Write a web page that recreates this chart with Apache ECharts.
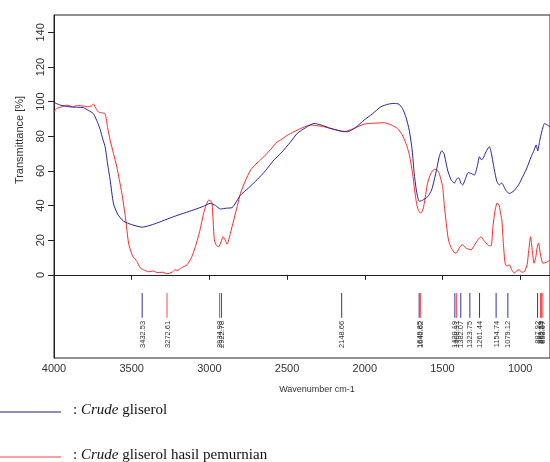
<!DOCTYPE html>
<html>
<head>
<meta charset="utf-8">
<script src="https://cdn.jsdelivr.net/npm/echarts@6/dist/echarts.min.js"></script>
<style>html,body{margin:0;padding:0;background:#fff}#c{width:550px;height:462px}</style>
</head>
<body>
<div id="c"></div>
<script>
// Crude gliserol (blue)
var blueWn = [4000,3960,3900,3811,3780,3746,3720,3703,3685,3671,3655,3639,3617,3590,3553,3500,3432,3350,3230,3101,3040,2994,2960,2929,2890,2854,2800,2750,2692,2640,2585,2542,2477,2434,2380,2327,2280,2219,2150,2112,2060,2005,1950,1897,1850,1811,1780,1757,1735,1714,1695,1682,1670,1660,1649,1630,1596,1570,1553,1535,1521,1505,1490,1467,1445,1424,1410,1400,1392,1382,1370,1350,1335,1316,1295,1275,1262,1250,1240,1220,1198,1185,1166,1150,1134,1120,1113,1090,1069,1040,1010,994,960,929,910,897,887,875,860,843,825,808];
var blueT = [99.5,98,97,96.5,95,93,88,84,78,74,64,55,41,35,31,29,27.5,29.5,33.6,37.5,39.5,41.3,40,38,38.5,38.8,46,50,55,60,66.3,70,76.8,81.7,85,87.4,86.5,84.5,83,82.6,85,89.3,93,97,98.5,99,98.5,96,91,83.6,72,58.6,50,45,42.5,43,45,49,54.8,62,68.2,71.6,70,60.5,55,52.9,55,56,55.7,53,51.9,56,59,58.6,57.6,63,68.2,66.5,67,71,74,70,60.5,54,51.9,53,52.5,48.5,47,48.5,52,54.8,61,68.2,72,75,71.5,77,83,87.4,86.5,85.5];
// Crude gliserol hasil pemurnian (red)
var redWn = [4000,3983,3950,3918,3880,3850,3811,3780,3760,3746,3730,3714,3690,3671,3655,3639,3617,3596,3580,3563,3540,3520,3495,3466,3445,3424,3390,3360,3337,3300,3273,3240,3220,3208,3180,3144,3115,3090,3060,3037,3020,3004,2990,2983,2975,2968,2955,2940,2925,2912,2898,2886,2865,2843,2820,2800,2770,2735,2700,2671,2620,2563,2542,2500,2456,2400,2348,2300,2263,2200,2134,2100,2069,2005,1950,1875,1830,1789,1760,1735,1715,1703,1690,1682,1668,1656,1639,1625,1617,1605,1596,1575,1553,1535,1521,1510,1499,1488,1478,1465,1456,1440,1425,1413,1395,1380,1370,1350,1330,1316,1295,1270,1252,1235,1205,1187,1175,1162,1148,1135,1125,1118,1108,1097,1085,1069,1055,1037,1020,1005,990,972,955,945,933,922,911,900,890,882,870,854,840,822,808];
var redT = [94,96,97,98,97,97.8,97.4,97,97.5,98.6,96,94,93.5,93,85,77.8,70,62.4,55,47,33,18.3,11,7.7,4,2.9,1.8,2.2,1.3,1.5,0.6,1.5,3,2.5,4,5.8,10,16.3,26,35.6,40.5,43.2,42.5,41.3,30,20.2,17,16.3,19,22,20,17.7,24,31.7,40,47,54,60.5,64,66.3,71,76.8,77.8,80.5,82.6,85,86.5,86,85.5,84,82.6,83.5,84.5,87,87.5,87.8,86.5,84.5,81,75.9,70,64.4,57,50.9,42,37.5,35.6,38,41.3,48,52.9,58.5,60.9,60.5,58.6,55,50.9,40,31.7,22,18.3,15,13,12.5,15,17,17.3,15.5,14.8,14.4,17,20.5,22,20,17,16.7,28,37,41.5,40,35,31.7,18,6.7,5,5.8,3,1,2.5,2.9,1.5,1.9,6,14,22,14,6.7,10,16,18.3,12,6.7,7,7.7,8.5];
// peak labels
var bluePeaks = [3432.53,2922.78,2148.66,1649.85,1420.19,1382.07,1323.75,1261.44,1154.74,1079.12,887.92];
var redPeaks = [3272.61,2934.98,1640.62,1408.91,869.19,862.54,853.67];
// axis ticks
var xTicks = [4000,3500,3000,2500,2000,1500,1000];
var yTicks = [0,20,40,60,80,100,120,140];

var BLUE = '#24249a', RED = '#ff2626';
function pairs(a,b){return a.map(function(w,i){return [w,b[i]];});}
function peakSeries(list,color){
  return {
    type:'custom', silent:true, z:5,
    data:list.map(function(w){return [w];}),
    renderItem:function(params,api){
      var w=api.value(0);
      var p1=api.coord([w,-10.5]), p2=api.coord([w,-24.8]);
      return {type:'group',children:[
        {type:'line',shape:{x1:p1[0],y1:p1[1],x2:p2[0],y2:p2[1]},style:{stroke:color,lineWidth:1}},
        {type:'text',x:p1[0]+0.5,y:p2[1]+3,rotation:Math.PI/2,
         style:{text:w.toFixed(2),font:'7.5px Arial',fill:'#333',align:'right',verticalAlign:'middle'}}
      ]};
    }
  };
}
var chart = echarts.init(document.getElementById('c'));
chart.setOption({
  animation:false,
  grid:{left:54,right:-2,top:15,bottom:104,show:true,borderColor:'#222',borderWidth:1,backgroundColor:'transparent'},
  xAxis:{type:'value',inverse:true,min:808,max:4000,
    axisLine:{show:true,lineStyle:{color:'#222'}},
    axisTick:{show:true,length:5,customValues:xTicks,lineStyle:{color:'#222'}},
    axisLabel:{customValues:xTicks,margin:5,fontFamily:'Arial',fontSize:11,color:'#333',formatter:function(v){return String(v);}},
    splitLine:{show:false}},
  yAxis:{type:'value',min:-48,max:150,
    axisLine:{show:true,lineStyle:{color:'#222'}},
    axisTick:{show:true,length:6,customValues:yTicks,lineStyle:{color:'#222'}},
    axisLabel:{customValues:yTicks,rotate:90,margin:8,fontFamily:'Arial',fontSize:11,color:'#333',formatter:function(v){return String(v);}},
    splitLine:{show:false}},
  graphic:[
    {type:'text',x:20,y:140,rotation:Math.PI/2,style:{text:'Transmittance [%]',font:'11px Arial',fill:'#333',align:'center',verticalAlign:'middle'}},
    {type:'text',x:317,y:390,style:{text:'Wavenumber cm-1',font:'9px Arial',fill:'#333',align:'center',verticalAlign:'middle'}},
    {type:'line',shape:{x1:0,y1:412,x2:61,y2:412},style:{stroke:'#1a1a80',lineWidth:1}},
    {type:'line',shape:{x1:0,y1:457,x2:61,y2:457},style:{stroke:'#ff4040',lineWidth:1}},
    {type:'text',x:73,y:410,style:{text:'{n|: }{i|Crude}{n| gliserol}',verticalAlign:'middle',
      rich:{n:{fontFamily:'Liberation Serif',fontSize:15,fill:'#111'},i:{fontFamily:'Liberation Serif',fontSize:15,fontStyle:'italic',fill:'#111'}}}},
    {type:'text',x:73,y:455,style:{text:'{n|: }{i|Crude}{n| gliserol hasil pemurnian}',verticalAlign:'middle',
      rich:{n:{fontFamily:'Liberation Serif',fontSize:15,fill:'#111'},i:{fontFamily:'Liberation Serif',fontSize:15,fontStyle:'italic',fill:'#111'}}}}
  ],
  series:[
    {type:'line',data:pairs(redWn,redT),showSymbol:false,smooth:0.2,lineStyle:{color:RED,width:1},z:3},
    {type:'line',data:pairs(blueWn,blueT),showSymbol:false,smooth:0.2,lineStyle:{color:BLUE,width:1},z:4},
    peakSeries(bluePeaks,'#3030a0'),
    peakSeries(redPeaks,'#ff4a4a')
  ]
});
</script>
</body>
</html>
